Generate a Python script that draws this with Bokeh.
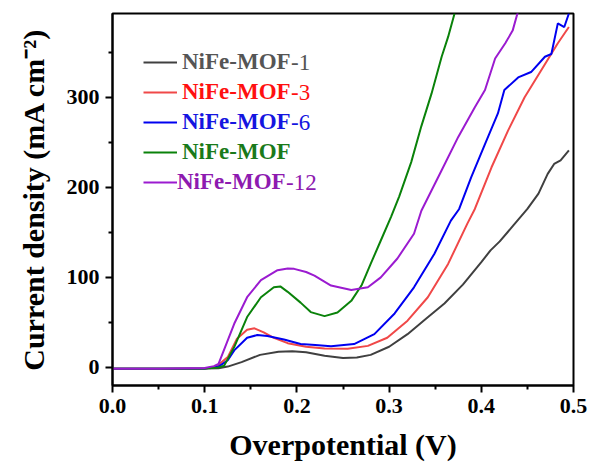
from bokeh.plotting import figure
from bokeh.models import (FixedTicker, NumeralTickFormatter, Legend, LegendItem,
                          Label)
from bokeh.embed import file_html
from bokeh.resources import INLINE

# Overpotential (V) and current density (mA cm^-2) for each catalyst
v_mof1 = [0, 0.05, 0.10, 0.115, 0.125, 0.14, 0.16, 0.18, 0.195, 0.21, 0.23, 0.25,
          0.265, 0.28, 0.30, 0.32, 0.34, 0.36, 0.38, 0.40, 0.41, 0.42, 0.435, 0.45,
          0.462, 0.472, 0.479, 0.486, 0.495]
j_mof1 = [-1.5, -1.5, -1.2, -0.8, 1, 6, 14, 17.5, 18, 17, 13, 10.5,
          11, 14, 23, 37, 54, 71, 92, 117, 130, 140, 158, 176,
          193, 215, 226, 230, 241]

v_mof3 = [0, 0.05, 0.10, 0.112, 0.125, 0.135, 0.146, 0.154, 0.164, 0.175, 0.19,
          0.21, 0.23, 0.255, 0.277, 0.298, 0.32, 0.342, 0.364, 0.385, 0.393, 0.411,
          0.429, 0.447, 0.465, 0.483, 0.495]
j_mof3 = [-1.5, -1.5, -1, 0.5, 11.5, 32, 42, 43.5, 39, 33, 27,
          23, 21, 20.7, 24, 33, 52, 78, 115, 160, 176, 222,
          263, 300, 330, 360, 378]

v_mof6 = [0, 0.05, 0.10, 0.115, 0.125, 0.132, 0.146, 0.157, 0.168, 0.186, 0.204,
          0.22, 0.237, 0.262, 0.284, 0.306, 0.327, 0.349, 0.367, 0.376, 0.389,
          0.404, 0.418, 0.425, 0.44, 0.454, 0.469, 0.476, 0.483, 0.49, 0.495]
j_mof6 = [-1.5, -1.5, -1, 1, 8, 19, 33, 36, 35, 31, 26,
          25, 23.7, 26, 37, 60, 89, 126, 163, 176, 211,
          248, 282, 308, 322, 328, 345, 348, 382, 378, 393]

v_mof = [0, 0.05, 0.10, 0.115, 0.121, 0.132, 0.146, 0.161, 0.175, 0.182, 0.19,
         0.204, 0.215, 0.23, 0.244, 0.259, 0.27, 0.28, 0.291, 0.302, 0.311, 0.324,
         0.335, 0.346, 0.357, 0.364, 0.371]
j_mof = [-1.5, -1.5, -1, 0, 2, 22.6, 56, 78, 89, 90, 84,
         72, 61.5, 57, 61, 74, 91, 115, 141, 167, 190, 228,
         268, 304, 345, 367, 393]

v_mof12 = [0, 0.05, 0.10, 0.110, 0.115, 0.132, 0.146, 0.161, 0.179, 0.19, 0.197,
           0.21, 0.219, 0.237, 0.259, 0.277, 0.291, 0.309, 0.327, 0.335, 0.357,
           0.375, 0.393, 0.404, 0.415, 0.426, 0.434, 0.44]
j_mof12 = [-1.5, -1.5, -0.5, 1.5, 4, 48.5, 78, 97, 108, 110, 109.5,
           106, 102, 91, 86, 89, 100, 121, 148.5, 174, 219,
           256, 289, 308, 343, 360, 374, 396]

x_ticks = [0.0, 0.1, 0.2, 0.3, 0.4, 0.5]
x_minor = [0.05, 0.15, 0.25, 0.35, 0.45]
y_ticks = [0, 100, 200, 300]
y_minor = [50, 150, 250, 350]

names = ["NiFe-MOF", "NiFe-MOF", "NiFe-MOF", "NiFe-MOF", "NiFe-MOF"]
suffixes = ["-1", "-3", "-6", "", "-12"]

FONT = "Liberation Serif"

p = figure(width=592, height=470, x_range=(0, 0.5), y_range=(-20, 393),
           output_backend="svg", toolbar_location=None,
           min_border_left=112, min_border_right=19,
           min_border_top=13, min_border_bottom=85)
p.xgrid.visible = False
p.ygrid.visible = False
p.outline_line_color = "black"
p.outline_line_width = 2
p.background_fill_color = "white"
p.border_fill_color = "white"

series = [
    (v_mof1, j_mof1, "#404040", "#555555"),
    (v_mof3, j_mof3, "#f04848", "#ff1010"),
    (v_mof6, j_mof6, "#0000f0", "#1515e0"),
    (v_mof, j_mof, "#0a820a", "#1a7a1a"),
    (v_mof12, j_mof12, "#9b1bd0", "#8e1ab0"),
]

renderers = []
for vx, jy, lc, _ in series:
    r = p.line(vx, jy, line_color=lc, line_width=2)
    renderers.append(r)

# axes
p.xaxis.ticker = FixedTicker(ticks=x_ticks, minor_ticks=x_minor)
p.yaxis.ticker = FixedTicker(ticks=y_ticks, minor_ticks=y_minor)
p.xaxis.formatter = NumeralTickFormatter(format="0.0")
for ax in (p.xaxis, p.yaxis):
    ax.axis_line_width = 2
    ax.major_tick_line_width = 2
    ax.minor_tick_line_width = 2
    ax.major_tick_in = 0
    ax.major_tick_out = 7
    ax.minor_tick_in = 0
    ax.minor_tick_out = 4
    ax.major_label_text_font = FONT
    ax.major_label_text_font_style = "bold"
    ax.major_label_text_font_size = "22px"
    ax.major_label_text_color = "black"
    ax.major_label_standoff = 6
    ax.axis_label_text_font = FONT
    ax.axis_label_text_font_style = "bold"
    ax.axis_label_text_font_size = "30px"
    ax.axis_label_text_color = "black"

p.xaxis.axis_label = "Overpotential (V)"
p.yaxis.axis_label = "Current density (mA cm\u207b\u00b2)"
p.xaxis.axis_label_standoff = 12
p.yaxis.axis_label_standoff = 14

# legend rows (one legend per series so each text takes the series colour)
row_y = [62, 92, 122, 152, 182]
frame_left, frame_bottom = 112, 385
for i, (r, (_, _, _, tc)) in enumerate(zip(renderers, series)):
    standoff = 0 if i == 4 else 5
    leg = Legend(items=[LegendItem(label=names[i], renderers=[r])],
                 location=(143 - frame_left, frame_bottom - row_y[i] - 15),
                 padding=0, margin=0, spacing=0,
                 glyph_width=34, glyph_height=30, label_height=30,
                 label_standoff=standoff,
                 border_line_color=None, background_fill_alpha=0,
                 label_text_font=FONT, label_text_font_style="bold",
                 label_text_font_size="23px", label_text_color=tc,
                 label_text_baseline="middle")
    p.add_layout(leg)
    if suffixes[i]:
        text_x = 143 + 34 + standoff + 108.6
        p.add_layout(Label(x=text_x - frame_left, y=frame_bottom - row_y[i],
                           x_units="screen", y_units="screen",
                           text=suffixes[i], text_font=FONT,
                           text_font_style="normal", text_font_size="23px",
                           text_color=tc, text_baseline="middle"))

open("out.html", "w").write(file_html(p, INLINE))
